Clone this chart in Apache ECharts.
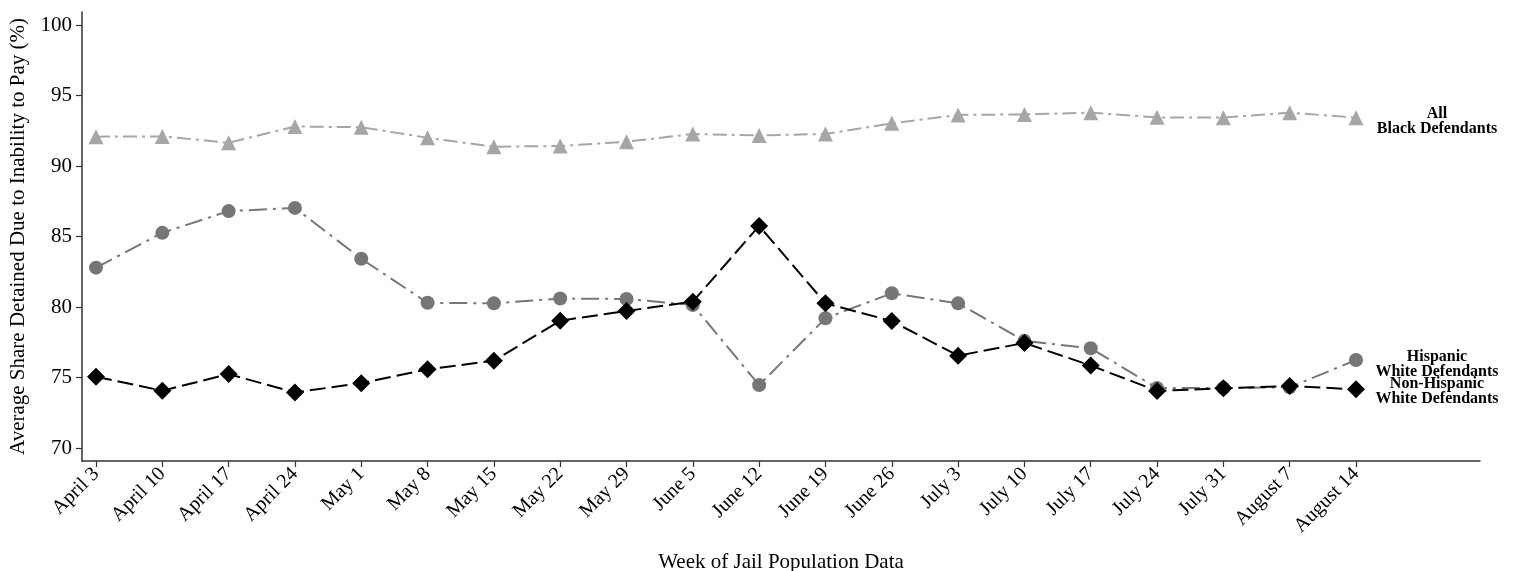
<!DOCTYPE html>
<html>
<head>
<meta charset="utf-8">
<script src="https://cdn.jsdelivr.net/npm/echarts@6/dist/echarts.min.js"></script>
<style>html,body{margin:0;padding:0;background:#fff;}#c{width:1519px;height:571px;}</style>
</head>
<body>
<div id="c"></div>
<script>
const weeks = ["April 3","April 10","April 17","April 24","May 1","May 8","May 15","May 22","May 29","June 5","June 12","June 19","June 26","July 3","July 10","July 17","July 24","July 31","August 7","August 14"];
const allBlack = [92.08,92.1,91.65,92.8,92.75,92.0,91.37,91.42,91.72,92.27,92.17,92.27,93.03,93.62,93.66,93.78,93.45,93.43,93.78,93.43];
const hispanicWhite = [82.79,85.26,86.8,87.03,83.42,80.3,80.26,80.6,80.57,80.14,74.46,79.2,80.97,80.26,77.6,77.07,74.25,74.25,74.3,76.24];
const nonHispanicWhite = [75.06,74.06,75.24,73.94,74.6,75.58,76.19,79.03,79.72,80.38,85.75,80.26,79.0,76.55,77.45,75.85,74.05,74.23,74.4,74.16];
const yTickValues = [70,75,80,85,90,95,100];
const seriesLabels = ["All\nBlack Defendants","Hispanic\nWhite Defendants","Non-Hispanic\nWhite Defendants"];

const serif = '"Liberation Serif","DejaVu Serif",serif';
const xIdx = weeks.map((w,i)=>i);
function mk(name, arr, color, symbol, size, dash, labelText, lblOffset){
  const d = arr.map((v,i)=>{
    if(i===arr.length-1){
      return {value:[i,v], label:{show:true, formatter:labelText, position:'inside', offset:lblOffset,
        align:'center', verticalAlign:'middle', color:'#000', fontFamily:serif, fontWeight:'bold', fontSize:16, lineHeight:15}};
    }
    return [i,v];
  });
  return {name, type:'line', data:d, symbol, symbolSize:size,
    itemStyle:{color}, lineStyle:{color, width:2, type:dash}, animation:false, z:3};
}
const chart = echarts.init(document.getElementById('c'));
chart.setOption({
  backgroundColor:'#fff',
  animation:false,
  grid:{left:82, right:39, top:12, bottom:110, containLabel:false, outerBoundsMode:'none'},
  xAxis:{type:'value', min:-0.211, max:20.87,
     axisLine:{show:true, onZero:false, lineStyle:{color:'#333', width:1.5}},
     axisTick:{show:true, length:6, customValues:xIdx, lineStyle:{color:'#333', width:1.2}},
     splitLine:{show:false},
     axisLabel:{rotate:45, fontFamily:serif, fontSize:20, color:'#000', margin:10, customValues:xIdx, formatter:v=>weeks[Math.round(v)]||''},
     name:'Week of Jail Population Data', nameLocation:'middle', nameGap:91,
     nameTextStyle:{fontFamily:serif, fontSize:21, color:'#000'}},
  yAxis:{type:'value', min:69.078, max:100.922,
     axisLine:{show:true, onZero:false, lineStyle:{color:'#333', width:1.5}},
     axisTick:{show:true, length:6, customValues:yTickValues, lineStyle:{color:'#333', width:1.2}},
     splitLine:{show:false},
     axisLabel:{fontFamily:serif, fontSize:21, color:'#000', margin:10, customValues:yTickValues},
     name:'Average Share Detained Due to Inability to Pay (%)', nameLocation:'middle', nameGap:53,
     nameTextStyle:{fontFamily:serif, fontSize:21, color:'#000'}},
  series:[
    mk('All Black Defendants', allBlack, '#a6a6a6', 'triangle', 15, [14,5,3,5], seriesLabels[0], [81,4]),
    mk('Hispanic White Defendants', hispanicWhite, '#767676', 'circle', 14, [18,6,3,6], seriesLabels[1], [81,4]),
    mk('Non-Hispanic White Defendants', nonHispanicWhite, '#000000', 'diamond', 18, [16,6], seriesLabels[2], [81,2])
  ]
});
</script>
</body>
</html>
